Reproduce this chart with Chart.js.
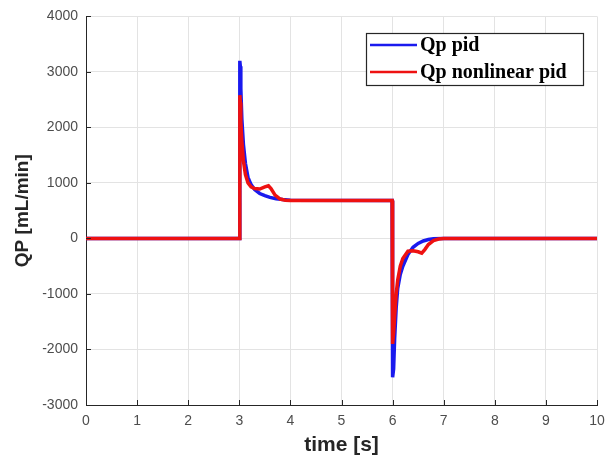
<!DOCTYPE html>
<html>
<head>
<meta charset="utf-8">
<script src="https://cdn.jsdelivr.net/npm/chart.js@4"></script>
<style>
  html, body { margin: 0; padding: 0; background: #fff; }
  #wrap { width: 605px; height: 456px; }
</style>
</head>
<body>
<div id="wrap"><canvas id="qpChart"></canvas></div>
<script>
// time [s] and QP [mL/min]
const pidTime = [0, 3.0, 3.01, 3.02, 3.03, 3.05, 3.08, 3.12, 3.17, 3.23, 3.3, 3.4, 3.5, 3.6, 3.72, 3.85, 4.0, 5.99, 6.0, 6.02, 6.04, 6.07, 6.1, 6.15, 6.2, 6.3, 6.4, 6.5, 6.6, 6.7, 6.8, 7.0, 10]
const pidQp = [0, 0, 3200, 3100, 2700, 2150, 1700, 1350, 1100, 970, 880, 810, 770, 740, 715, 700, 690, 685, -2500, -2350, -1800, -1250, -900, -650, -500, -290, -160, -90, -45, -20, -5, 0, 0]

const nlTime = [0, 3.0, 3.01, 3.02, 3.03, 3.05, 3.08, 3.12, 3.17, 3.23, 3.3, 3.4, 3.5, 3.57, 3.62, 3.7, 3.8, 3.9, 4.0, 5.99, 6.0, 6.02, 6.04, 6.07, 6.1, 6.15, 6.2, 6.3, 6.4, 6.5, 6.57, 6.63, 6.7, 6.8, 6.9, 7.0, 10]
const nlQp = [0, 0, 2580, 2450, 2100, 1750, 1400, 1150, 1000, 930, 900, 890, 930, 950, 900, 780, 710, 690, 685, 685, -1900, -1700, -1400, -1000, -750, -500, -360, -230, -220, -240, -265, -200, -110, -40, -10, 0, 0]

const xTicks = [0, 1, 2, 3, 4, 5, 6, 7, 8, 9, 10]
const yTicks = [-3000, -2000, -1000, 0, 1000, 2000, 3000, 4000]

const toPoints = (xs, ys) => xs.map((x, i) => ({ x: x, y: ys[i] }))

// MATLAB-style inward ticks
const innerTicks = {
  id: "innerTicks",
  afterDraw(chart) {
    const { ctx, chartArea, scales } = chart
    ctx.save()
    ctx.strokeStyle = "#262626"
    ctx.lineWidth = 1
    ctx.beginPath()
    xTicks.forEach((t) => {
      const px = Math.round(scales.x.getPixelForValue(t)) + 0.5
      ctx.moveTo(px, chartArea.bottom)
      ctx.lineTo(px, chartArea.bottom - 5)
    })
    yTicks.forEach((t) => {
      const py = Math.round(scales.y.getPixelForValue(t)) + 0.5
      ctx.moveTo(chartArea.left, py)
      ctx.lineTo(chartArea.left + 5, py)
    })
    ctx.stroke()
    ctx.restore()
  },
}

// boxed legend inside the plot, top right
const boxLegend = {
  id: "boxLegend",
  afterDraw(chart) {
    const ctx = chart.ctx
    const left = 366, top = 33, w = 217, h = 52
    ctx.save()
    ctx.fillStyle = "#fff"
    ctx.fillRect(left, top, w, h)
    ctx.strokeStyle = "#262626"
    ctx.lineWidth = 1.2
    ctx.strokeRect(left + 0.5, top + 0.5, w, h)
    ctx.font = "bold 20px 'Liberation Serif', 'DejaVu Serif', serif"
    ctx.textBaseline = "middle"
    chart.data.datasets.forEach((ds, i) => {
      const y = top + 12 + i * 27
      ctx.strokeStyle = ds.borderColor
      ctx.lineWidth = 2.5
      ctx.beginPath()
      ctx.moveTo(370, y)
      ctx.lineTo(417, y)
      ctx.stroke()
      ctx.fillStyle = "#000"
      ctx.fillText(ds.label, 420, y + 1)
    })
    ctx.restore()
  },
}

const tickFont = { family: "'Liberation Sans', Arial, sans-serif", size: 14 }

const ctx = document.getElementById("qpChart").getContext("2d")
new Chart(ctx, {
  type: "scatter",
  data: {
    datasets: [
      {
        label: "Qp pid",
        data: toPoints(pidTime, pidQp),
        showLine: true,
        borderColor: "#1a1aee",
        borderWidth: 3.5,
        pointRadius: 0,
        tension: 0,
        order: 1,
      },
      {
        label: "Qp nonlinear pid",
        data: toPoints(nlTime, nlQp),
        showLine: true,
        borderColor: "#ee1111",
        borderWidth: 3.5,
        pointRadius: 0,
        tension: 0,
        order: 0,
      },
    ],
  },
  options: {
    responsive: true,
    maintainAspectRatio: false,
    animation: false,
    layout: { padding: { left: 0, top: 15, right: 8, bottom: 0 } },
    plugins: {
      legend: { display: false },
      tooltip: { enabled: false },
    },
    scales: {
      x: {
        type: "linear",
        min: 0,
        max: 10,
        afterBuildTicks: (s) => { s.ticks = xTicks.map((v) => ({ value: v })) },
        afterFit: (s) => { s.height = 51; s.paddingRight = 0 },
        grid: { color: "#e3e3e3", drawTicks: false },
        border: { display: true, color: "#262626", width: 1 },
        ticks: { color: "#4d4d4d", padding: 8, font: tickFont, callback: (v) => String(v) },
        title: {
          display: true,
          text: "time [s]",
          color: "#262626",
          padding: { top: 0, bottom: 0 },
          font: { family: "'Liberation Sans', Arial, sans-serif", size: 21, weight: "bold", lineHeight: 1 },
        },
      },
      y: {
        min: -3000,
        max: 4000,
        afterBuildTicks: (s) => { s.ticks = yTicks.map((v) => ({ value: v })) },
        afterFit: (s) => { s.width = 86 },
        grid: { color: "#e3e3e3", drawTicks: false },
        border: { display: true, color: "#262626", width: 1 },
        ticks: { color: "#4d4d4d", padding: 8, font: tickFont, callback: (v) => String(v) },
        title: {
          display: true,
          text: "QP [mL/min]",
          color: "#262626",
          padding: { top: 11, bottom: 0 },
          font: { family: "'Liberation Sans', Arial, sans-serif", size: 19, weight: "bold" },
        },
      },
    },
  },
  plugins: [innerTicks, boxLegend],
})
</script>
</body>
</html>
